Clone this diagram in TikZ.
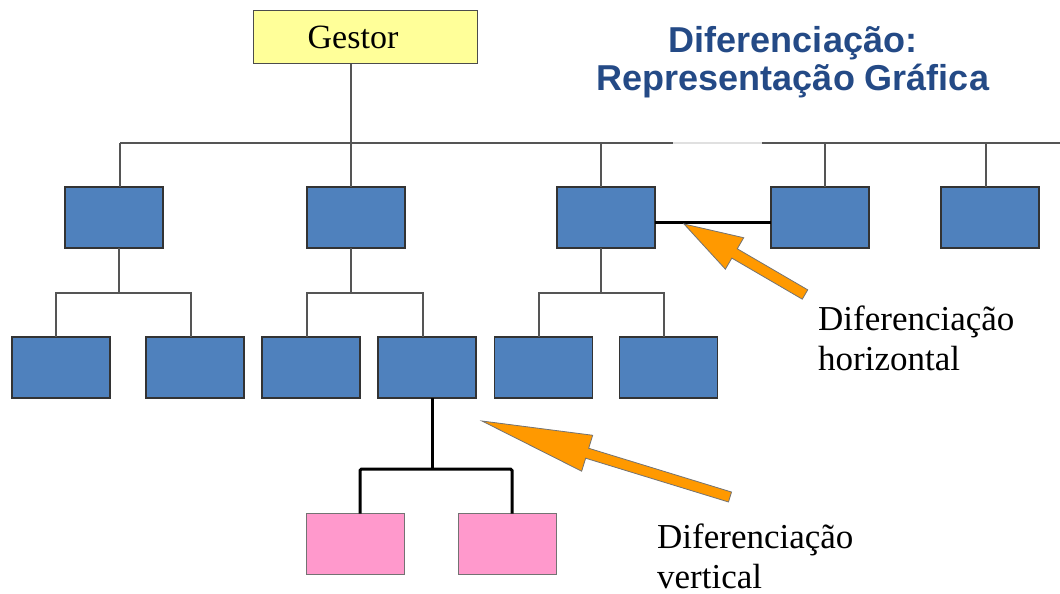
\documentclass[tikz,border=0pt]{standalone}
\usepackage{fontspec}
\setmainfont{Liberation Serif}
\newfontfamily\titlefont{Liberation Sans}
\usetikzlibrary{calc}

\definecolor{boxblue}{HTML}{4F81BD}
\definecolor{boxpink}{HTML}{FF99CC}
\definecolor{boxyellow}{HTML}{FFFF99}
\definecolor{arroworange}{HTML}{FF9900}
\definecolor{titleblue}{RGB}{36,74,134}
\definecolor{linegray}{HTML}{555555}

% block arrow: #1 tail, #2 tip, #3 shaft half width, #4 head half width, #5 head length
\newcommand\blockarrow[5]{%
  \coordinate (ba-base) at ($(#2)!#5!(#1)$);
  \filldraw[bigarrow] ($(#1)!#3!90:(#2)$) -- ($(ba-base)!#3!90:(#2)$)
    -- ($(ba-base)!#4!90:(#2)$) -- (#2) -- ($(ba-base)!#4!-90:(#2)$)
    -- ($(ba-base)!#3!-90:(#2)$) -- ($(#1)!#3!-90:(#2)$) -- cycle;}

\tikzset{
  unit/.style={draw=black!80, line width=1.1pt, fill=boxblue,
    minimum width=98pt, minimum height=61pt, inner sep=0pt, outer sep=0pt},
  pinkunit/.style={unit, fill=boxpink, draw=black!55},
  link/.style={draw=linegray, line width=1.3pt},
  faintlink/.style={draw=black!12, line width=1.3pt},
  strong/.style={draw=black, line width=3pt, rounded corners=1.5pt},
  bigarrow/.style={fill=arroworange, draw=black!55, line width=0.8pt},
  label/.style={font=\fontsize{35}{40}\selectfont, anchor=base west,
    align=left, inner sep=0pt},
}

\begin{document}
\begin{tikzpicture}[x=1pt, y=-1pt]
\useasboundingbox (0,0) rectangle (1060,594);

% title (anchored on the baseline of its last line)
\node[font=\titlefont\bfseries\fontsize{36}{38}\selectfont, text=titleblue,
      align=center, anchor=base, inner sep=0pt] (title) at (793,90)
      {Diferenciação:\\Representação Gráfica};

% manager
\node[draw=black!70, fill=boxyellow, line width=1pt, minimum width=224pt,
      minimum height=53pt, inner sep=0pt,
      font=\fontsize{34}{40}\selectfont] (G) at (365,37.5) {Gestor\hspace*{24pt}};

% first level
\node[unit] (A) at (114,217.5) {};
\node[unit] (B) at (356,217.5) {};
\node[unit] (C) at (606,217.5) {};
\node[unit] (D) at (820,217.5) {};
\node[unit] (E) at (990,217.5) {};

% second level
\node[unit] (a1) at (61,367.5) {};
\node[unit] (a2) at (195,367.5) {};
\node[unit] (b1) at (311,367.5) {};
\node[unit] (b2) at (427,367.5) {};
\node[unit] (c1) at (543.5,367.5) {};
\node[unit] (c2) at (668.5,367.5) {};

% third level
\node[pinkunit] (p1) at (355.5,544) {};
\node[pinkunit] (p2) at (507.5,544) {};

% bus junctions
\coordinate (jA) at (120,143);
\coordinate (jB) at (351,143);
\coordinate (jC) at (601,143);
\coordinate (jD) at (825,143);
\coordinate (jE) at (986,143);
\coordinate (gap1) at (673,143);
\coordinate (gap2) at (762,143);
\coordinate (busend) at (1060,143);

\draw[link] (G.south -| jB) -- (jB);
\draw[link] (jA) -- (gap1);
\draw[faintlink] (gap1) -- (gap2);
\draw[link] (gap2) -- (busend);
\foreach \j/\n in {jA/A, jB/B, jC/C, jD/D, jE/E}
  \draw[link] (\j) -- (\j |- \n.north);

% second-level brackets
\coordinate (kA) at (119,293);
\coordinate (k1) at (56,293);
\coordinate (k2) at (191,293);
\coordinate (kB) at (351,293);
\coordinate (k3) at (307,293);
\coordinate (k4) at (423,293);
\coordinate (kC) at (601,293);
\coordinate (k5) at (539,293);
\coordinate (k6) at (664,293);

\draw[link] (A.south -| kA) -- (kA);
\draw[link] (k1 |- a1.north) -- (k1) -- (k2) -- (k2 |- a2.north);
\draw[link] (B.south -| kB) -- (kB);
\draw[link] (k3 |- b1.north) -- (k3) -- (k4) -- (k4 |- b2.north);
\draw[link] (C.south -| kC) -- (kC);
\draw[link] (k5 |- c1.north) -- (k5) -- (k6) -- (k6 |- c2.north);

% vertical differentiation
\coordinate (m) at (432,469);
\coordinate (m1) at (360,469);
\coordinate (m2) at (512,469);
\draw[strong] (b2.south -| m) -- (m);
\draw[strong] (m1 |- p1.north) -- (m1) -- (m2) -- (m2 |- p2.north);

% horizontal differentiation
\coordinate (hl) at (0,222);
\draw[strong] (C.east |- hl) -- (D.west |- hl);

% pointers
\coordinate (hTail) at (805,294.5);
\coordinate (hTip) at (684,224);
\blockarrow{hTail}{hTip}{5.4pt}{18.2pt}{58.5pt}
\coordinate (vTail) at (730,497);
\coordinate (vTip) at (482,421);
\blockarrow{vTail}{vTip}{5.2pt}{18.8pt}{110pt}

% labels (anchored on the baseline of the last line)
\node[label] (lh) at (818,370) {Diferenciação\\horizontal};
\node[label] (lv) at (657,588) {Diferenciação\\vertical};
\end{tikzpicture}
\end{document}
